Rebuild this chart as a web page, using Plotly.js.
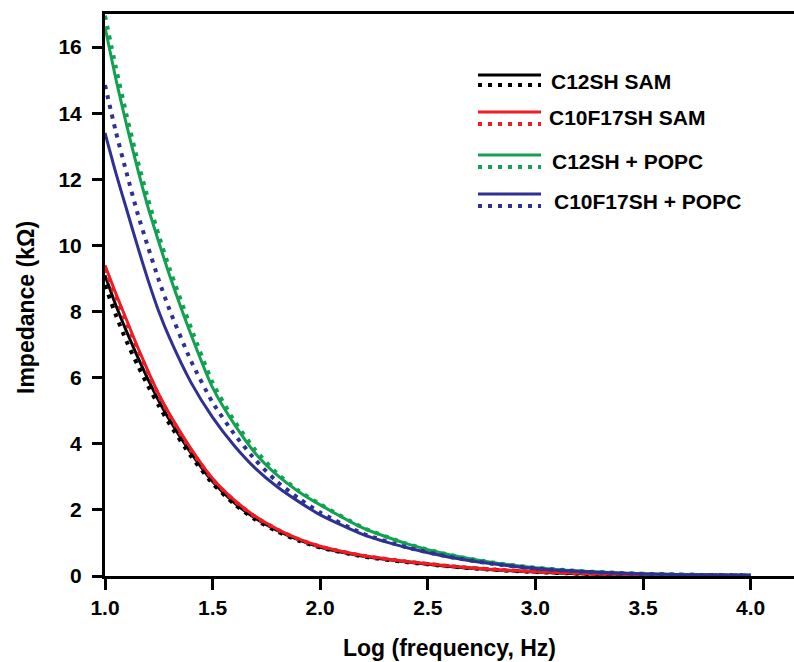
<!DOCTYPE html>
<html>
<head>
<meta charset="utf-8">
<script src="https://cdn.plot.ly/plotly-3.0.1.min.js"></script>
<style>
  html, body { margin: 0; padding: 0; background: #fff; }
  #chart { width: 794px; height: 662px; }
</style>
</head>
<body>
<div id="chart"></div>
<script>
// ---- Data ----
const logFreq = [1.0, 1.05, 1.1, 1.15, 1.2, 1.25, 1.3, 1.4, 1.5, 1.6, 1.7, 1.8, 1.9, 2.0, 2.2, 2.4, 2.6, 2.8, 3.0, 3.2, 3.4, 3.6, 3.8, 4.0];

const seriesNames = ["C12SH SAM", "C10F17SH SAM", "C12SH + POPC", "C10F17SH + POPC"];

const c12SamMeasured = [9.1, 8.2, 7.4, 6.65, 5.95, 5.3, 4.72, 3.72, 2.86, 2.22, 1.74, 1.38, 1.09, 0.87, 0.6, 0.43, 0.29, 0.19, 0.12, 0.07, 0.04, 0.03, 0.02, 0.01];
const c12SamFit      = [8.8, 7.9, 7.1, 6.4, 5.75, 5.15, 4.6, 3.62, 2.8, 2.18, 1.7, 1.35, 1.07, 0.86, 0.59, 0.42, 0.29, 0.19, 0.12, 0.07, 0.04, 0.03, 0.02, 0.01];

const c10SamMeasured = [9.4, 8.55, 7.75, 6.95, 6.2, 5.5, 4.9, 3.85, 2.95, 2.3, 1.8, 1.42, 1.12, 0.9, 0.62, 0.44, 0.3, 0.2, 0.13, 0.08, 0.05, 0.03, 0.02, 0.01];
const c10SamFit      = [9.3, 8.45, 7.65, 6.88, 6.15, 5.45, 4.85, 3.8, 2.92, 2.28, 1.78, 1.41, 1.11, 0.89, 0.61, 0.44, 0.3, 0.2, 0.13, 0.08, 0.05, 0.03, 0.02, 0.01];

const c12PopcMeasured = [16.6, 15.05, 13.65, 12.35, 11.15, 10.1, 9.1, 7.3, 5.7, 4.6, 3.7, 3.05, 2.55, 2.15, 1.45, 0.98, 0.64, 0.41, 0.25, 0.15, 0.09, 0.05, 0.03, 0.02];
const c12PopcFit      = [16.95, 15.4, 13.95, 12.6, 11.4, 10.3, 9.3, 7.5, 5.85, 4.7, 3.8, 3.1, 2.58, 2.17, 1.46, 0.98, 0.64, 0.41, 0.25, 0.15, 0.09, 0.05, 0.03, 0.02];

const c10PopcMeasured = [13.4, 12.2, 11.1, 10.0, 8.95, 8.0, 7.2, 5.85, 4.8, 3.95, 3.25, 2.7, 2.25, 1.85, 1.25, 0.86, 0.57, 0.37, 0.23, 0.14, 0.08, 0.05, 0.03, 0.02];
const c10PopcFit      = [14.85, 13.45, 12.2, 11.0, 9.95, 8.95, 8.05, 6.5, 5.25, 4.3, 3.5, 2.85, 2.35, 1.92, 1.28, 0.87, 0.58, 0.37, 0.23, 0.14, 0.08, 0.05, 0.03, 0.02];

const xTicks = [1.0, 1.5, 2.0, 2.5, 3.0, 3.5, 4.0];
const yTicks = [0, 2, 4, 6, 8, 10, 12, 14, 16];

const xTitle = "Log (frequency, Hz)";
const yTitle = "Impedance (kΩ)";

// ---- Styles ----
const colors = ["#000000", "#ee1c25", "#12a150", "#2e3192"];
const DOT = "4px,6px";
const FONT = '"Liberation Sans", Arial, Helvetica, sans-serif';

// ---- Layout geometry ----
const L = 105, R = 794, T = 14, B = 576;
const PX_PER_X = 215.2;
const xRange = [1.0, 1 + (R - L) / PX_PER_X];
const px2x = p => (p - L) / (R - L);
const px2y = p => (B - p) / (B - T);

function solid(y, i, name) {
  return { x: logFreq, y: y, type: "scatter", mode: "lines", name: name + " (solid)",
    line: { color: colors[i], width: 3, shape: "spline", smoothing: 0.6 }, showlegend: false, hoverinfo: "x+y" };
}
function dotted(y, i, name) {
  return { x: logFreq, y: y, type: "scatter", mode: "lines", name: name + " (dotted)",
    line: { color: colors[i], width: 4, dash: DOT, shape: "spline", smoothing: 0.6 }, showlegend: false, hoverinfo: "x+y" };
}

// y-axis tick marks drawn as short horizontal line markers just left of the axis line
const yTickMarks = {
  x: yTicks.map(() => xRange[0] - 7 / PX_PER_X), y: yTicks, type: "scatter", mode: "markers",
  cliponaxis: false, showlegend: false, hoverinfo: "skip",
  marker: { symbol: "line-ew", size: 11, color: "#000", line: { color: "#000", width: 3 } }
};

const data = [
  dotted(c12SamFit, 0, seriesNames[0]),
  solid(c12SamMeasured, 0, seriesNames[0]),
  dotted(c10SamFit, 1, seriesNames[1]),
  solid(c10SamMeasured, 1, seriesNames[1]),
  solid(c12PopcMeasured, 2, seriesNames[2]),
  dotted(c12PopcFit, 2, seriesNames[2]),
  dotted(c10PopcFit, 3, seriesNames[3]),
  solid(c10PopcMeasured, 3, seriesNames[3]),
  yTickMarks
];

// ---- Custom legend (solid + dotted sample per row) ----
const legendRows = [
  { s: 75,  d: 85,  t: 81,  tx: 549 },
  { s: 112, d: 124, t: 118, tx: 547 },
  { s: 155, d: 167, t: 161, tx: 550 },
  { s: 194, d: 206, t: 201, tx: 552 }
];
const shapes = [];
const annotations = [];
legendRows.forEach((r, i) => {
  shapes.push({ type: "line", xref: "paper", yref: "paper", x0: px2x(478), x1: px2x(541), y0: px2y(r.s), y1: px2y(r.s),
    line: { color: colors[i], width: 3 } });
  shapes.push({ type: "line", xref: "paper", yref: "paper", x0: px2x(478), x1: px2x(541), y0: px2y(r.d), y1: px2y(r.d),
    line: { color: colors[i], width: 4, dash: DOT } });
  annotations.push({ xref: "paper", yref: "paper", x: px2x(r.tx), y: px2y(r.t), xanchor: "left", yanchor: "middle",
    text: seriesNames[i], showarrow: false, font: { family: FONT, size: 21, weight: "bold", color: "#000" } });
});
// y-axis title placed as a rotated annotation (slightly below plot centre, as in the reference)
annotations.push({ xref: "paper", yref: "paper", x: px2x(26), y: px2y(308), xanchor: "center", yanchor: "middle",
  textangle: -90, text: yTitle, showarrow: false, font: { family: FONT, size: 23, weight: "bold", color: "#000" } });

const layout = {
  width: 794, height: 662,
  margin: { l: L, r: 794 - R, t: T, b: 662 - B },
  paper_bgcolor: "#fff", plot_bgcolor: "#fff",
  font: { family: FONT, color: "#000" },
  showlegend: false,
  xaxis: {
    range: xRange,
    tickvals: xTicks, ticktext: xTicks.map(v => v.toFixed(1)),
    ticks: "outside", ticklen: 11, tickwidth: 3, tickcolor: "#000",
    showline: true, linewidth: 3, linecolor: "#000", mirror: true,
    showgrid: false, zeroline: false,
    tickfont: { family: FONT, size: 21, weight: "bold", color: "#000" },
    title: { text: xTitle, font: { family: FONT, size: 23, weight: "bold", color: "#000" }, standoff: 22 }
  },
  yaxis: {
    range: [0, 17],
    tickvals: yTicks, ticktext: yTicks.map(v => String(v)),
    ticks: "outside", ticklen: 10, tickwidth: 3, tickcolor: "#000",
    ticklabelstandoff: 6,
    showline: true, linewidth: 3, linecolor: "#000", mirror: false,
    showgrid: false, zeroline: false,
    tickfont: { family: FONT, size: 21, weight: "bold", color: "#000" }
  },
  shapes: shapes,
  annotations: annotations
};

Plotly.newPlot("chart", data, layout, { displayModeBar: false, staticPlot: true });
</script>
</body>
</html>
